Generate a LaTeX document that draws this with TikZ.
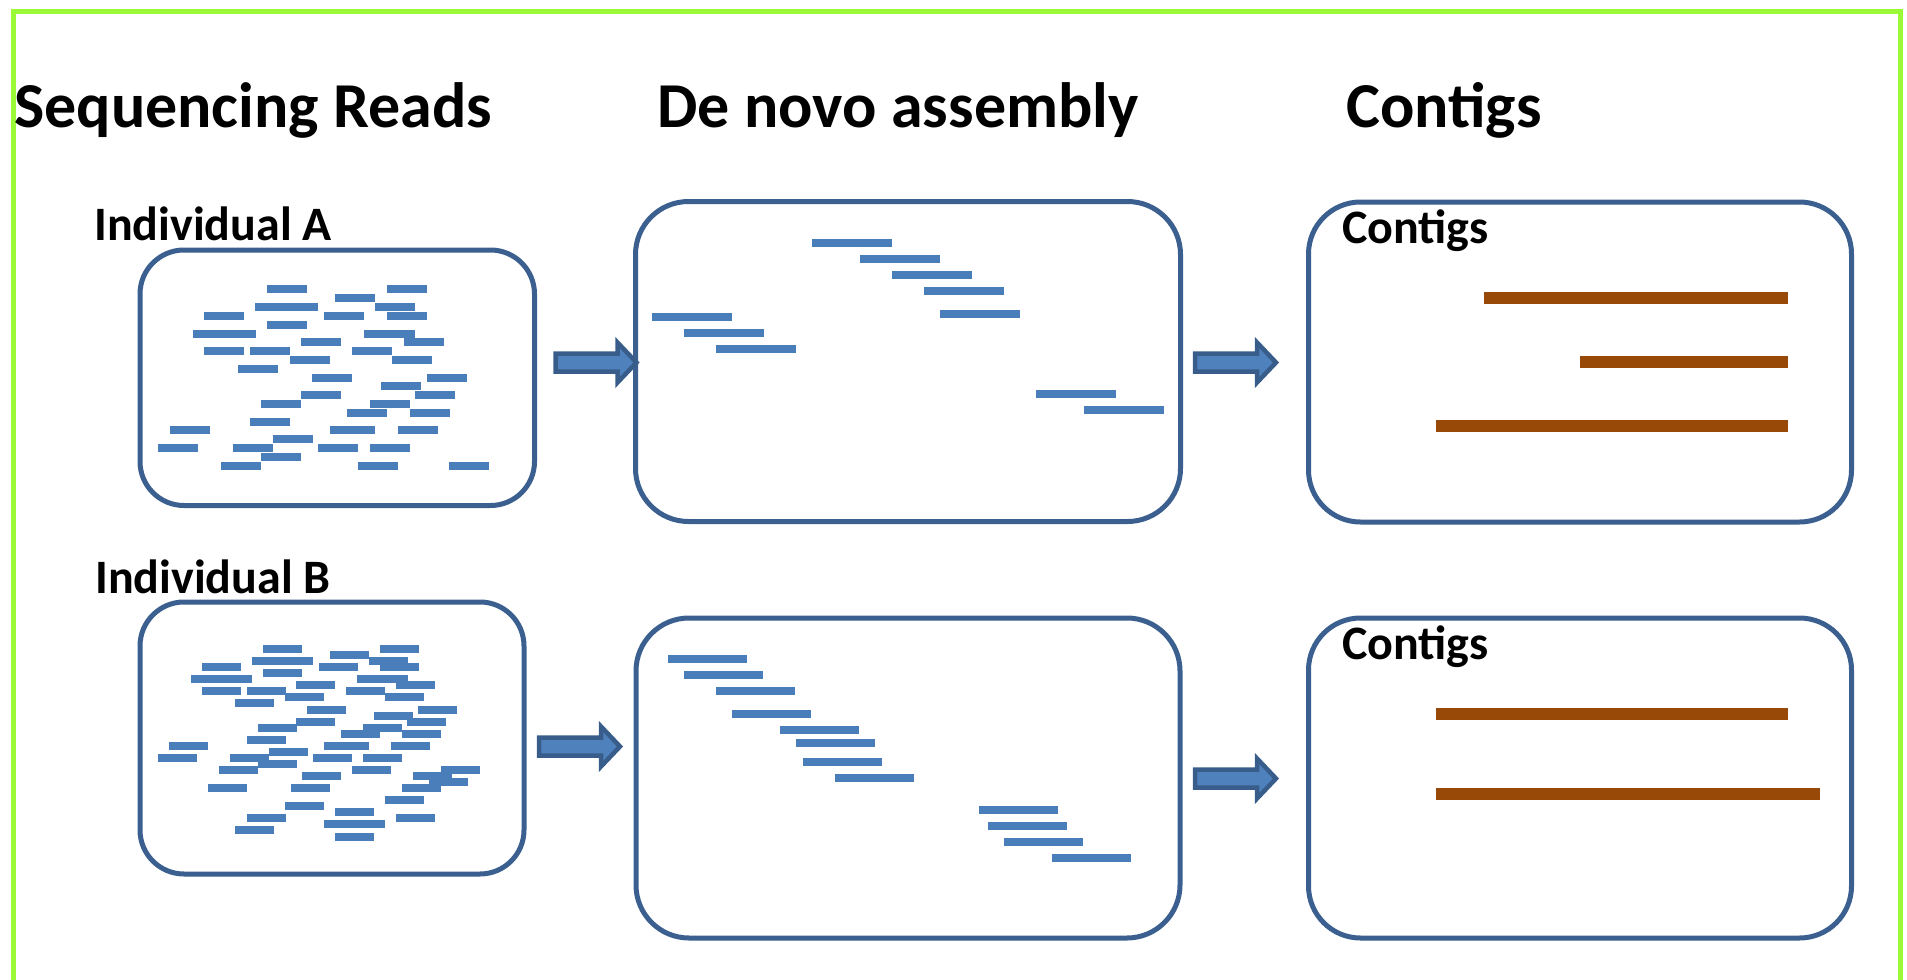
\documentclass[tikz,border=0pt]{standalone}
\usepackage{fontspec}
\newfontfamily\calibri{Carlito}
\definecolor{frameline}{RGB}{154,250,56}
\definecolor{panelline}{RGB}{59,96,144}
\definecolor{readblue}{RGB}{74,126,187}
\definecolor{arrowfill}{RGB}{79,129,189}
\definecolor{arrowline}{RGB}{56,93,138}
\definecolor{contigbrown}{RGB}{152,72,7}
\tikzset{
  panel/.style={draw=panelline, line width=5pt, rectangle, rounded corners=#1, inner sep=0pt, fill=white},
  heading/.style={anchor=base west, inner sep=0pt, font=\calibri\bfseries\fontsize{64}{70}\selectfont},
  sublabel/.style={anchor=base west, inner sep=0pt, font=\calibri\bfseries\fontsize{48}{54}\selectfont},
  blockarrow/.pic={
    \draw[draw=arrowline, fill=arrowfill, line width=4.5pt, line join=miter]
      (2,-9) -- (64,-9) -- (64,-20) -- (83,0) -- (64,20) -- (64,9) -- (2,9) -- cycle;
  }
}
\begin{document}
\begin{tikzpicture}[x=1pt, y=-1pt]
\useasboundingbox (0,0) rectangle (1907,980);

% outer frame (open at the bottom)
\draw[frameline, line width=5pt] (13,985) -- (13,11) -- (1900,11) -- (1900,985);

% column headings
\node[heading] (hreads) at (14,127) {Sequencing Reads};
\node[heading] (hasm) at (657,127) {De novo assembly};
\node[heading] (hctg) at (1346,127) {Contigs};

% panels
\node[panel=44pt, minimum width=394.5pt, minimum height=255.5pt] (readsA) at (337.25,377.75) {};
\node[panel=44pt, minimum width=384pt, minimum height=272pt] (readsB) at (332,738) {};
\node[panel=53pt, minimum width=545pt, minimum height=320pt] (asmA) at (908,361.5) {};
\node[panel=53pt, minimum width=544pt, minimum height=320pt] (asmB) at (908,778) {};
\node[panel=52pt, minimum width=543pt, minimum height=320pt] (ctgA) at (1580,362) {};
\node[panel=52pt, minimum width=543pt, minimum height=320pt] (ctgB) at (1580,778) {};

% labels
\node[sublabel] (labA) at (94,240) {Individual A};
\node[sublabel] (labB) at (95,593) {Individual B};
\node[sublabel] (labCA) at (1342,243) {Contigs};
\node[sublabel] (labCB) at (1342,659) {Contigs};

% raw reads, individual A
\foreach \x/\y/\w in {267/285/40, 387/285/40, 335/294/40, 255/303/63, 375/303/40,
  204/312/40, 324/312/40, 387/312/40, 267/321/40, 193/330/63, 364/330/51,
  301/338/40, 404/338/40, 204/347/40, 250/347/40, 352/347/40, 290/356/40,
  392/356/40, 238/365/40, 312/374/40, 427/374/40, 381/382/40, 301/391/40,
  415/391/40, 261/400/40, 370/400/40, 347/409/40, 410/409/40, 250/418/40,
  170/426/40, 330/426/45, 398/426/40, 273/435/40, 158/444/40, 233/444/40,
  318/444/40, 370/444/40, 261/453/40, 221/462/40, 358/462/40, 449/462/40}
  \fill[readblue] (\x,\y) rectangle ++(\w,7.7);

% raw reads, individual B
\foreach \x/\y/\w in {263/645/39, 380/645/39, 330/651/39, 252/657/61, 369/657/39,
  202/663/39, 319/663/39, 380/663/39, 263/669/39, 191/675/61, 357/675/51,
  296/681/39, 396/681/39, 202/687/39, 247/687/39, 346/687/39, 285/693/39,
  385/693/39, 235/699/39, 307/706/39, 418/706/39, 374/712/39, 296/718/39,
  407/718/39, 258/724/39, 363/724/39, 341/730/39, 402/730/39, 247/736/39,
  169/742/39, 324/742/45, 391/742/39, 269/748/39, 158/754/39, 230/754/39,
  313/754/39, 363/754/39, 258/760/39, 219/766/39, 352/766/39, 441/766/39,
  302/772/39, 413/772/39, 429/778/39, 208/784/39, 291/784/39, 402/784/39,
  385/796/39, 285/802/39, 335/808/39, 247/814/39, 396/814/39, 235/826/39,
  324/820/61, 335/833/39}
  \fill[readblue] (\x,\y) rectangle ++(\w,7.7);

% overlapping reads after assembly
\foreach \x/\y in {812/239, 860/255, 892/271, 924/287, 940/310, 652/313,
  684/329, 716/345, 1036/390, 1084/406}
  \fill[readblue] (\x,\y) rectangle ++(80,7.7);
\foreach \x/\y in {668/655, 684/671, 716/687, 732/710, 780/726, 796/739,
  803/758, 835/774, 979/806, 988/822, 1004/838, 1052/854}
  \fill[readblue] (\x,\y) rectangle ++(79,7.7);

% contigs
\foreach \xa/\xb/\y in {1484/1788/292, 1580/1788/356, 1436/1788/420,
  1436/1788/708, 1436/1820/788}
  \fill[contigbrown] (\xa,\y) rectangle (\xb,\y+12);

% flow arrows
\coordinate (arrA1) at (553.5,362.5);
\coordinate (arrB1) at (537,746.5);
\coordinate (arrA2) at (1193,362.5);
\coordinate (arrB2) at (1193,778.5);
\pic at (arrA1) {blockarrow};
\pic at (arrB1) {blockarrow};
\pic at (arrA2) {blockarrow};
\pic at (arrB2) {blockarrow};
\end{tikzpicture}
\end{document}
